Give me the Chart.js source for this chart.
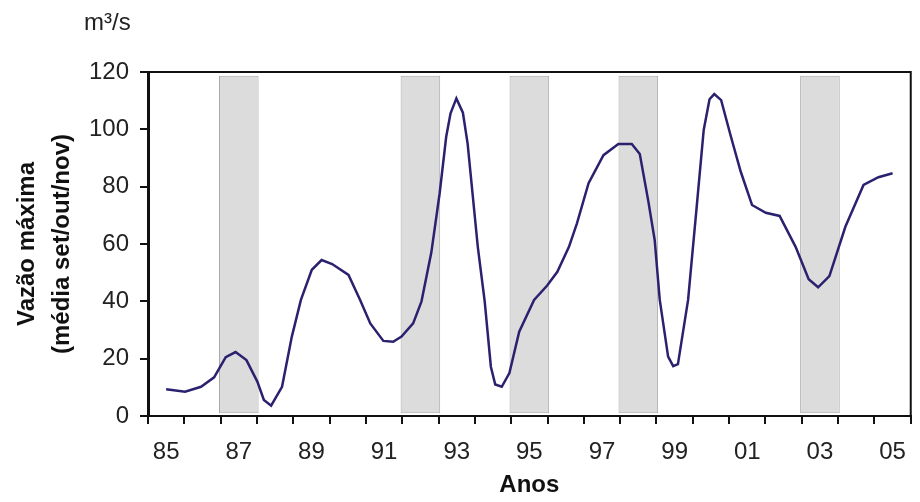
<!DOCTYPE html>
<html><head><meta charset="utf-8">
<script src="https://cdn.jsdelivr.net/npm/chart.js@4.4.0/dist/chart.umd.min.js"></script>
<style>html,body{margin:0;padding:0;background:#fff}#wrap{width:920px;height:502px}</style>
</head><body><div id="wrap"><canvas id="c" width="920" height="502"></canvas></div>
<script>
// Category axis: years 1985..2005 (labels shown every other year)
const yearLabels = ['85','86','87','88','89','90','91','92','93','94','95','96','97','98','99','00','01','02','03','04','05'];
// Shaded years (floating bars, from..to in m³/s)
const shadedYears = ['87','92','95','98','03'];
const shadedRange = [1, 118.7];
// Line series: decimal year and maximum flow (m³/s)
const flowYears = [1985.0,1985.52,1985.96,1986.32,1986.64,1986.91,1987.21,1987.51,1987.69,1987.89,
  1988.19,1988.46,1988.71,1989.01,1989.28,1989.57,1990.02,1990.34,1990.62,1990.98,
  1991.25,1991.48,1991.80,1992.03,1992.30,1992.53,1992.71,1992.83,1992.99,1993.17,
  1993.30,1993.58,1993.77,1993.94,1994.06,1994.24,1994.45,1994.72,1995.13,1995.49,
  1995.77,1996.09,1996.31,1996.63,1997.04,1997.45,1997.82,1998.04,1998.27,1998.45,
  1998.59,1998.82,1998.96,1999.09,1999.37,1999.59,1999.80,1999.96,2000.09,2000.28,
  2000.55,2000.82,2001.13,2001.51,2001.89,2002.33,2002.69,2002.95,2003.26,2003.70,
  2004.20,2004.61,2005.0];
const flowValues = [9.3,8.5,10.2,13.5,20.5,22.3,19.5,12,5.6,3.6,
  10.2,27.7,40.5,51,54.4,53,49.2,40.5,32.3,26.2,
  25.9,27.7,32.3,40,57,77.7,97.4,105.6,110.8,105.8,
  95,59,40,17.2,11,10.2,15,29.4,40.5,45.5,
  50.3,59,67.2,81.2,91,94.9,94.9,91.4,75.3,61.4,
  40.5,20.7,17.4,18.1,40.5,70.7,99.8,110.5,112.3,110.2,
  97.4,85.2,73.6,70.9,69.8,59,47.7,44.9,48.8,66,
  80.6,83.3,84.7];
const yTickMin = 0, yTickMax = 120, yTickStep = 20;
const unitLabel = 'm³/s';
const yTitle = ['Vazão máxima', '(média set/out/nov)'];
const xTitle = 'Anos';

const FONT = 'Arial, "Liberation Sans", sans-serif';
const shadedData = yearLabels.map(l => shadedYears.includes(l) ? shadedRange.slice() : null);
const linePoints = flowYears.map((x, i) => ({x, y: flowValues[i]}));

const framePlugin = {
  id: 'frame',
  afterDraw(chart) {
    const {ctx, chartArea: a} = chart;
    ctx.save();
    ctx.strokeStyle = '#111';
    ctx.lineWidth = 2;
    ctx.beginPath();
    ctx.moveTo(a.left, a.top);
    ctx.lineTo(a.right, a.top);
    ctx.lineTo(a.right, a.bottom);
    ctx.stroke();
    ctx.fillStyle = '#222';
    ctx.font = '24px ' + FONT;
    ctx.textAlign = 'left';
    ctx.textBaseline = 'alphabetic';
    ctx.fillText(unitLabel, a.left - 64, 30);
    ctx.restore();
  }
};

new Chart(document.getElementById('c'), {
  type: 'bar',
  data: {
    labels: yearLabels,
    datasets: [
      {
        type: 'line',
        data: linePoints,
        xAxisID: 'xl', yAxisID: 'y',
        borderColor: '#2a216f', borderWidth: 2.5,
        pointRadius: 0, tension: 0, fill: false, order: 0
      },
      {
        type: 'bar',
        data: shadedData,
        xAxisID: 'x', yAxisID: 'y',
        backgroundColor: '#dcdcdc', borderColor: '#a8a8a8', borderWidth: 1,
        grouped: false,
        categoryPercentage: 1, barPercentage: 1.09, order: 1, borderSkipped: false
      }
    ]
  },
  options: {
    responsive: false,
    animation: false,
    layout: {padding: {left: 0, top: 72, right: 3, bottom: 0}},
    plugins: {legend: {display: false}, tooltip: {enabled: false}},
    scales: {
      x: {
        type: 'category',
        offset: true,
        grid: {offset: true, drawOnChartArea: false, drawTicks: true, tickLength: 8, color: '#111', lineWidth: 2},
        border: {display: true, color: '#111', width: 2},
        ticks: {
          autoSkip: false, maxRotation: 0, padding: 14, color: '#222',
          font: {family: FONT, size: 24},
          callback: function(v, i) { return i % 2 === 0 ? this.getLabelForValue(v) : ''; }
        },
        title: {display: true, text: xTitle, color: '#111', font: {family: FONT, size: 24, weight: 'bold'}, padding: {top: 0, bottom: 2}},
        afterFit: s => { s.height = 86; }
      },
      xl: {type: 'linear', min: 1984.5, max: 2005.5, offset: false, display: false, grid: {offset: false}},
      y: {
        min: yTickMin, max: yTickMax,
        grid: {drawOnChartArea: false, drawTicks: true, tickLength: 8, color: '#111', lineWidth: 2},
        border: {display: true, color: '#111', width: 3},
        ticks: {stepSize: yTickStep, padding: 11, color: '#222', font: {family: FONT, size: 24}},
        title: {display: true, text: yTitle, color: '#111', font: {family: FONT, size: 24, weight: 'bold', lineHeight: 1.46}, padding: {top: 10, bottom: 0}},
        afterFit: s => { s.width = 148; }
      }
    }
  },
  plugins: [framePlugin]
});
</script></body></html>
